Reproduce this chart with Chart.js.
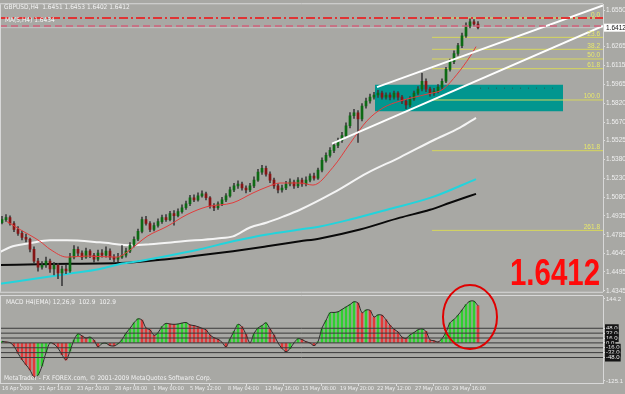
<!DOCTYPE html>
<html><head><meta charset="utf-8">
<script src="https://cdn.jsdelivr.net/npm/chart.js@4.4.0/dist/chart.umd.min.js"></script>
<style>
html,body{margin:0;padding:0;background:#a8a8a4;width:625px;height:394px;overflow:hidden}
#wrap{position:relative;width:625px;height:394px}
canvas{position:absolute;left:0}
#main{top:0}
#macd{top:280px}
</style></head><body>
<div id="wrap">
<canvas id="main" width="625" height="296"></canvas>
<canvas id="macd" width="625" height="114"></canvas>
</div>
<script>
// ---------- DATA ----------
const BAR_OPEN = [1.4880,1.4905,1.4920,1.4874,1.4827,1.4796,1.4765,1.4750,1.4672,1.4579,
1.4532,1.4548,1.4579,1.4517,1.4548,1.4486,1.4517,1.4501,1.4610,1.4672,
1.4641,1.4610,1.4657,1.4625,1.4594,1.4641,1.4625,1.4657,1.4610,1.4594,
1.4610,1.4625,1.4657,1.4703,1.4750,1.4812,1.4905,1.4874,1.4827,1.4858,
1.4889,1.4920,1.4905,1.4951,1.4936,1.4967,1.4998,1.5029,1.5076,1.5060,
1.5091,1.5107,1.5076,1.5013,1.4998,1.5029,1.5060,1.5091,1.5138,1.5169,
1.5184,1.5153,1.5138,1.5169,1.5215,1.5277,1.5308,1.5262,1.5215,1.5169,
1.5138,1.5153,1.5184,1.5200,1.5169,1.5215,1.5184,1.5215,1.5246,1.5231,
1.5293,1.5370,1.5409,1.5448,1.5487,1.5526,1.5564,1.5642,1.5720,1.5743,
1.5696,1.5797,1.5836,1.5867,1.5883,1.5898,1.5867,1.5883,1.5867,1.5898,
1.5867,1.5836,1.5805,1.5852,1.5898,1.5929,1.5991,1.5929,1.5898,1.5914,
1.5945,1.5991,1.6084,1.6146,1.6209,1.6271,1.6348,1.6426,1.6457,1.6441];
const BAR_HIGH = [1.4930,1.4945,1.4935,1.4890,1.4850,1.4815,1.4790,1.4760,1.4690,1.4600,
1.4575,1.4610,1.4595,1.4570,1.4560,1.4540,1.4545,1.4640,1.4700,1.4690,
1.4660,1.4680,1.4670,1.4640,1.4665,1.4670,1.4690,1.4675,1.4630,1.4640,
1.4700,1.4680,1.4725,1.4770,1.4830,1.4925,1.4930,1.4890,1.4880,1.4910,
1.4940,1.4945,1.4970,1.4975,1.4990,1.5020,1.5050,1.5095,1.5100,1.5115,
1.5130,1.5120,1.5085,1.5030,1.5045,1.5080,1.5110,1.5160,1.5190,1.5210,
1.5200,1.5170,1.5190,1.5240,1.5300,1.5330,1.5325,1.5280,1.5230,1.5185,
1.5175,1.5205,1.5225,1.5215,1.5235,1.5230,1.5240,1.5265,1.5270,1.5310,
1.5390,1.5430,1.5470,1.5505,1.5545,1.5590,1.5665,1.5745,1.5770,1.5760,
1.5815,1.5860,1.5890,1.5905,1.5920,1.5915,1.5900,1.5900,1.5915,1.5910,
1.5880,1.5850,1.5870,1.5915,1.5950,1.6053,1.6010,1.5945,1.5935,1.5965,
1.6010,1.6100,1.6165,1.6230,1.6290,1.6370,1.6450,1.6482,1.6475,1.6460];
const BAR_LOW = [1.4870,1.4890,1.4860,1.4810,1.4780,1.4745,1.4730,1.4650,1.4560,1.4500,
1.4515,1.4530,1.4490,1.4470,1.4440,1.4385,1.4480,1.4490,1.4595,1.4620,
1.4590,1.4600,1.4605,1.4570,1.4580,1.4610,1.4610,1.4590,1.4570,1.4575,
1.4600,1.4610,1.4645,1.4690,1.4740,1.4800,1.4860,1.4810,1.4815,1.4845,
1.4875,1.4890,1.4895,1.4860,1.4925,1.4955,1.4985,1.5015,1.5045,1.5050,
1.5080,1.5060,1.4995,1.4975,1.4985,1.5015,1.5045,1.5080,1.5125,1.5150,
1.5135,1.5115,1.5125,1.5155,1.5205,1.5260,1.5245,1.5195,1.5150,1.5115,
1.5120,1.5140,1.5170,1.5150,1.5155,1.5165,1.5170,1.5200,1.5215,1.5220,
1.5280,1.5355,1.5395,1.5430,1.5470,1.5510,1.5550,1.5625,1.5700,1.5510,
1.5680,1.5780,1.5820,1.5850,1.5865,1.5850,1.5850,1.5845,1.5850,1.5845,
1.5815,1.5775,1.5790,1.5840,1.5885,1.5915,1.5910,1.5875,1.5880,1.5900,
1.5930,1.5980,1.6070,1.6130,1.6195,1.6255,1.6335,1.6410,1.6425,1.6402];
const BAR_CLOSE = [1.4905,1.4920,1.4874,1.4827,1.4796,1.4765,1.4750,1.4672,1.4579,1.4532,
1.4548,1.4579,1.4517,1.4548,1.4486,1.4517,1.4501,1.4610,1.4672,1.4641,
1.4610,1.4657,1.4625,1.4594,1.4641,1.4625,1.4657,1.4610,1.4594,1.4610,
1.4625,1.4657,1.4703,1.4750,1.4812,1.4905,1.4874,1.4827,1.4858,1.4889,
1.4920,1.4905,1.4951,1.4936,1.4967,1.4998,1.5029,1.5076,1.5060,1.5091,
1.5107,1.5076,1.5013,1.4998,1.5029,1.5060,1.5091,1.5138,1.5169,1.5184,
1.5153,1.5138,1.5169,1.5215,1.5277,1.5308,1.5262,1.5215,1.5169,1.5138,
1.5153,1.5184,1.5200,1.5169,1.5215,1.5184,1.5215,1.5246,1.5231,1.5293,
1.5370,1.5409,1.5448,1.5487,1.5526,1.5564,1.5642,1.5720,1.5743,1.5696,
1.5797,1.5836,1.5867,1.5883,1.5898,1.5867,1.5883,1.5867,1.5898,1.5867,
1.5836,1.5805,1.5852,1.5898,1.5929,1.5991,1.5929,1.5898,1.5914,1.5945,
1.5991,1.6084,1.6146,1.6209,1.6271,1.6348,1.6426,1.6457,1.6441,1.6412];

// moving averages: [bar position, price]
const MA_WHITE = [[-0.5,1.4649],[2,1.4688],[7,1.4719],[12,1.4742],[16.25,1.4742],[24.5,1.4726],[32.75,1.4703],[37,1.4711],[45.25,1.4734],[53.75,1.4757],[57.75,1.4773],[62,1.4843],[66.25,1.4882],[70.25,1.4928],[74.5,1.4982],[82.75,1.5114],[91.25,1.5270],[99.5,1.5394],[107.75,1.5526],[114.5,1.5627],[118.5,1.5704]];
const MA_CYAN = [[-0.5,1.4400],[7.75,1.4439],[16.25,1.4478],[24.5,1.4517],[29.5,1.4556],[34.5,1.4579],[41.25,1.4618],[49.5,1.4672],[57.75,1.4734],[66.25,1.4788],[74.5,1.4827],[79.5,1.4851],[87,1.4905],[96.25,1.4982],[107.75,1.5083],[118.5,1.5223]];
const MA_BLACK = [[-0.5,1.4548],[12,1.4556],[29.5,1.4563],[41.25,1.4594],[49.5,1.4625],[57.75,1.4657],[66.25,1.4695],[74.5,1.4734],[79.5,1.4757],[89.5,1.4827],[99.5,1.4920],[107,1.4982],[112,1.5037],[118.5,1.5107]];
const MA_RED = [[1.25,1.4889],[4.5,1.4827],[9.5,1.4734],[12,1.4672],[16.25,1.4610],[21.25,1.4618],[28.75,1.4610],[31.25,1.4649],[36.25,1.4773],[41.25,1.4851],[46.25,1.4944],[51.25,1.5006],[57.75,1.5037],[62.75,1.5114],[66.25,1.5161],[69.5,1.5192],[74.5,1.5192],[77.75,1.5176],[82.75,1.5316],[87,1.5502],[91.25,1.5681],[95.25,1.5782],[99.5,1.5836],[106.25,1.5890],[110.25,1.5929],[113.75,1.6046],[117,1.6185],[118.5,1.6263]];

// trend channel lines
const CHANNEL_UPPER = [[93.75,1.5945],[150.25,1.6586]];
const CHANNEL_LOWER = [[82.5,1.5502],[150.25,1.6426]];

// fibonacci
const FIB_LABELS = ['0.0','23.6','38.2','50.0','61.8','100.0','161.8','261.8'];
const FIB_PRICES = [1.6488,1.6336,1.6242,1.6166,1.6090,1.5844,1.5446,1.4820];
const FIB_START = 107.5;

// zone rectangle
const ZONE_X = [93.25, 140.25];
const ZONE_PRICE = [1.5964, 1.5756];
const ZONE_MID = [[119.5,1.5937],[139.5,1.5937]];

// horizontal reference levels
const LEVEL_DASHDOT = 1.6488;
const LEVEL_DASHED = 1.6426;
const LAST_PRICE = 1.6412;

// MACD
const MACD_VALUES = [5,3,1,-11,-34,-55,-72,-89,-112,-106,
-76,-32,0,-4,-17,-39,-56,-27,10,30,
23,16,19,9,-13,-2,-1,-9,-10,-3,
11,32,48,66,79,75,49,43,25,33,
54,64,62,61,62,65,67,59,57,53,
48,43,26,17,12,2,-13,13,38,61,
53,28,0,31,49,57,66,46,26,0,
-18,-29,-19,0,14,11,4,0,-9,4,
49,74,99,100,102,110,118,126,135,131,
99,108,107,85,92,91,76,58,45,36,
19,15,26,34,43,46,38,10,7,3,
14,35,66,77,91,108,126,137,137,122];
const MACD_LEVELS = [48,32,16,0,-16,-32,-48];
const MACD_RANGE_LABELS = [144.2, -125.1];

// axis ticks
const PRICE_TICKS = [1.6550,1.6265,1.6115,1.5965,1.5820,1.5670,1.5525,1.5380,1.5230,1.5080,1.4935,1.4785,1.4640,1.4495,1.4345];
const TIME_TICK_POS = [0,9.25,18.75,28.25,37.75,47,56.5,65.75,75,84.5,93.75,103.25,112.5];
const TIME_TICK_LABELS = ['16 Apr 2009','21 Apr 16:00','23 Apr 20:00','28 Apr 08:00','1 May 00:00','5 May 12:00','8 May 04:00','12 May 16:00','15 May 08:00','19 May 20:00','22 May 12:00','27 May 00:00','29 May 16:00'];

// ---------- CHARTS ----------
Chart.defaults.font.family = '"Liberation Sans", Arial, sans-serif';
const NARROW = '"Liberation Sans Narrow", "DejaVu Sans Condensed", "Liberation Sans", Arial, sans-serif';
const X_MIN = -0.5, X_MAX = 150.25;
const FONT_SM = {size: 6.5, lineHeight: 1};
const AXIS_TXT = '#efefef';

const pts = a => a.map(p => ({x: p[0], y: p[1]}));
const hl = (y, x0, x1) => [{x: x0, y}, {x: x1, y}];
const lineDs = (data, color, width, order, extra) => Object.assign({
  type: 'line', data, borderColor: color, borderWidth: width, pointRadius: 0,
  fill: false, order, tension: 0
}, extra || {});

const idx = BAR_CLOSE.map((_, i) => i);
const bodyColors = BAR_CLOSE.map((c, i) => c >= BAR_OPEN[i] ? '#0d6a14' : '#861515');

const mainDatasets = [
  lineDs([{x: ZONE_X[0], y: ZONE_PRICE[0]}, {x: ZONE_X[1], y: ZONE_PRICE[0]}], 'rgba(0,0,0,0)', 0, 30,
    {fill: {value: ZONE_PRICE[1]}, backgroundColor: '#02968f'}),
  lineDs(pts(ZONE_MID), '#2a5a58', 1, 29, {borderDash: [1, 7]}),
  ...FIB_PRICES.map(p => lineDs(hl(p, FIB_START, X_MAX), '#d6d65c', 1, 25)),
  lineDs(hl(LAST_PRICE, X_MIN, X_MAX), '#c4c4c4', 1, 24),
  lineDs(pts(MA_WHITE), '#f4f4f4', 2, 20, {cubicInterpolationMode: 'monotone'}),
  lineDs(pts(MA_CYAN), '#22d4dc', 2, 20, {cubicInterpolationMode: 'monotone'}),
  lineDs(pts(MA_BLACK), '#0a0a0a', 2, 20, {cubicInterpolationMode: 'monotone'}),
  {type: 'bar', data: idx.map(i => ({x: i, y: [BAR_LOW[i], BAR_HIGH[i]]})), backgroundColor: '#3e3e3e',
   barThickness: 1, grouped: false, order: 12},
  {type: 'bar', data: idx.map(i => ({x: i, y: [BAR_OPEN[i], BAR_CLOSE[i]]})), backgroundColor: bodyColors,
   barThickness: 2, grouped: false, order: 11},
  lineDs(pts(MA_RED), '#e23c3c', 1, 8, {cubicInterpolationMode: 'monotone'}),
  lineDs(pts(CHANNEL_UPPER), '#ffffff', 2, 5),
  lineDs(pts(CHANNEL_LOWER), '#ffffff', 2, 5),
  lineDs(hl(LEVEL_DASHED, X_MIN, X_MAX), '#d0607a', 1.5, 3, {borderDash: [7, 4]}),
  lineDs(hl(LEVEL_DASHDOT, X_MIN, X_MAX), '#e03434', 2, 2, {borderDash: [9, 3, 2, 3]})
];

const mainDeco = {
  id: 'mainDeco',
  afterDraw(chart) {
    const {ctx, chartArea: a, scales: {x, y}} = chart;
    ctx.save();
    ctx.strokeStyle = '#d8d8d8'; ctx.lineWidth = 1;
    ctx.beginPath();
    ctx.moveTo(0, a.top - 0.5); ctx.lineTo(a.right, a.top - 0.5);
    ctx.moveTo(0.5, a.top); ctx.lineTo(0.5, a.bottom);
    ctx.moveTo(0, a.bottom + 0.5); ctx.lineTo(a.right, a.bottom + 0.5);
    ctx.stroke();
    ctx.font = '6.5px ' + NARROW;
    ctx.fillStyle = '#f2f2f2'; ctx.textBaseline = 'alphabetic'; ctx.textAlign = 'left';
    ctx.fillText('GBPUSD,H4  1.6451 1.6453 1.6402 1.6412', 4, 9);
    ctx.fillText('MA(5,H4) 1.6434', 5, 22);
    ctx.font = '6.5px "Liberation Sans", Arial';
    ctx.fillStyle = '#e8e86a'; ctx.textAlign = 'right';
    FIB_PRICES.forEach((p, i) => ctx.fillText(FIB_LABELS[i], a.right - 3, y.getPixelForValue(p) - 1.5));
    const yp = y.getPixelForValue(LAST_PRICE);
    ctx.fillStyle = '#ffffff'; ctx.fillRect(a.right + 1, yp - 4, 21, 8);
    ctx.fillStyle = '#111111'; ctx.textAlign = 'left'; ctx.textBaseline = 'middle';
    ctx.fillText(LAST_PRICE.toFixed(4), a.right + 3, yp + 0.5);
    ctx.font = 'bold 36px "Liberation Sans", Arial';
    ctx.fillStyle = '#ff0a0a'; ctx.textBaseline = 'alphabetic';
    const txt = LAST_PRICE.toFixed(4);
    const w = ctx.measureText(txt).width;
    ctx.translate(510, 285); ctx.scale(90 / w, 1);
    ctx.fillText(txt, 0, 0);
    ctx.restore();
  }
};

new Chart(document.getElementById('main'), {
  type: 'line',
  data: {datasets: mainDatasets},
  options: {
    responsive: false, animation: false, events: [],
    layout: {padding: {top: 2, bottom: 3, left: 0, right: 0}},
    plugins: {legend: {display: false}, tooltip: {enabled: false}},
    scales: {
      x: {type: 'linear', min: X_MIN, max: X_MAX, display: false, offset: false},
      y: {
        type: 'linear', position: 'right', min: 1.4338, max: 1.6596,
        afterFit: s => { s.width = 22; },
        afterBuildTicks: s => { s.ticks = PRICE_TICKS.map(v => ({value: v})); },
        ticks: {autoSkip: false, font: FONT_SM, color: AXIS_TXT, padding: 1,
                callback: v => Number(v).toFixed(4)},
        grid: {drawOnChartArea: false, tickLength: 2, color: '#dcdcdc'},
        border: {color: '#d8d8d8'}
      }
    }
  },
  plugins: [mainDeco]
});

const macdColors = MACD_VALUES.map((v, i) => (i === 0 || v >= MACD_VALUES[i - 1]) ? '#2fd02f' : '#e23a3a');
const macdData = MACD_VALUES.map((v, i) => ({x: i, y: v}));

const macdDeco = {
  id: 'macdDeco',
  afterDraw(chart) {
    const {ctx, chartArea: a, scales: {x, y}} = chart;
    ctx.save();
    ctx.strokeStyle = '#d8d8d8'; ctx.lineWidth = 1;
    ctx.beginPath();
    ctx.moveTo(0, a.top - 0.5); ctx.lineTo(a.right, a.top - 0.5);
    ctx.moveTo(0.5, a.top); ctx.lineTo(0.5, a.bottom);
    ctx.stroke();
    ctx.font = '6.5px ' + NARROW;
    ctx.fillStyle = '#f2f2f2'; ctx.textAlign = 'left'; ctx.textBaseline = 'alphabetic';
    ctx.fillText('MACD H4(EMA) 12,26,9  102.9  102.9', 6, a.top + 8);
    ctx.fillText('MetaTrader - FX FOREX.com, \u00a9 2001-2009 MetaQuotes Software Corp.', 4, a.bottom - 3);
    ctx.strokeStyle = '#e00000'; ctx.lineWidth = 2;
    ctx.beginPath();
    ctx.ellipse(x.getPixelForValue(117), y.getPixelForValue(85), 27, 32, 0, 0, Math.PI * 2);
    ctx.stroke();
    ctx.restore();
  }
};

new Chart(document.getElementById('macd'), {
  type: 'line',
  data: {datasets: [
    {type: 'bar', data: macdData, backgroundColor: macdColors, barThickness: 2, grouped: false, order: 5},
    lineDs(macdData, '#2c2c2c', 1, 3, {tension: 0.3}),
    ...MACD_LEVELS.map(l => lineDs(hl(l, X_MIN, X_MAX), '#3a3a3a', 1, 1))
  ]},
  options: {
    responsive: false, animation: false, events: [],
    layout: {padding: {top: 16, bottom: 0, left: 0, right: 0}},
    plugins: {legend: {display: false}, tooltip: {enabled: false}},
    scales: {
      x: {
        type: 'linear', min: X_MIN, max: X_MAX, position: 'bottom', offset: false,
        afterFit: s => { s.height = 11; },
        afterBuildTicks: s => { s.ticks = TIME_TICK_POS.map(v => ({value: v})); },
        ticks: {autoSkip: false, maxRotation: 0, align: 'start', font: {size: 5.5, lineHeight: 1, family: NARROW},
                color: AXIS_TXT, padding: 0,
                callback: v => TIME_TICK_LABELS[TIME_TICK_POS.indexOf(v)]},
        grid: {drawOnChartArea: false, tickLength: 3, color: '#dcdcdc'},
        border: {color: '#d8d8d8'}
      },
      y: {
        type: 'linear', position: 'right', min: -131.7, max: 154.0,
        afterFit: s => { s.width = 22; },
        afterBuildTicks: s => { s.ticks = [MACD_RANGE_LABELS[0], ...MACD_LEVELS, MACD_RANGE_LABELS[1]].map(v => ({value: v})); },
        ticks: {autoSkip: false, font: {size: 6, lineHeight: 1}, padding: 1,
                color: AXIS_TXT,
                showLabelBackdrop: c => MACD_LEVELS.includes(c.tick.value),
                backdropColor: '#141414', backdropPadding: 1,
                callback: v => Number(v).toFixed(1)},
        grid: {drawOnChartArea: false, tickLength: 2, color: '#dcdcdc'},
        border: {color: '#d8d8d8'}
      }
    }
  },
  plugins: [macdDeco]
});
</script>
</body></html>
